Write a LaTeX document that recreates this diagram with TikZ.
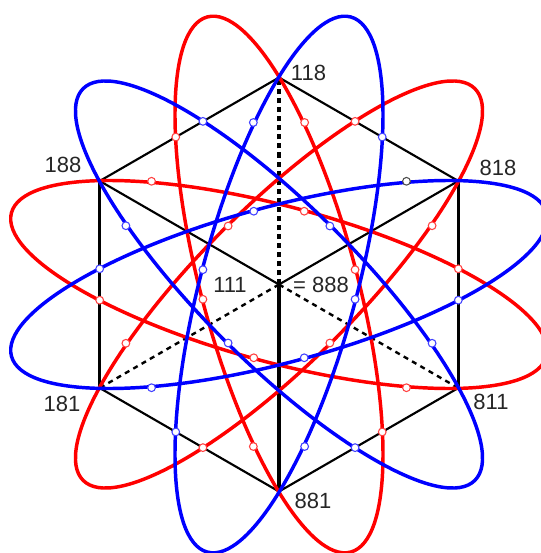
\documentclass[tikz,border=0pt]{standalone}
\usepackage{fontspec}
\setmainfont{Liberation Sans}
\tikzset{
  orbit/.style={line width=2.6pt,line join=round},
  edgethin/.style={black,line width=1.6pt},
  edgethick/.style={black,line width=2.3pt},
  spokethick/.style={black,line width=2.6pt,dash pattern=on 3.8pt off 3pt},
  spokethin/.style={black,line width=1.8pt,dash pattern=on 3.8pt off 3.4pt},
  dotmark/.style={circle,draw=#1,fill=white,line width=0.8pt,inner sep=0pt,minimum size=5.8pt},
  numlabel/.style={font=\fontsize{16.5pt}{18pt}\selectfont,inner sep=0pt,text=black!85},
}
\begin{document}
\begin{tikzpicture}[x=0.75pt,y=0.75pt]
\useasboundingbox (-279,-268.5) rectangle (262,284.5);
\clip (-279,-268.5) rectangle (262,284.5);
\coordinate (c) at (0,0);
\coordinate (v118) at (90:207);
\coordinate (v818) at (30:207);
\coordinate (v811) at (-30:207);
\coordinate (v881) at (-90:207);
\coordinate (v181) at (-150:207);
\coordinate (v188) at (150:207);
% hexagon and spokes
\draw[edgethin] (v118)--(v818);
\draw[edgethin] (v811)--(v881);
\draw[edgethin] (v881)--(v181);
\draw[edgethin] (v188)--(v118);
\draw[edgethick] (v818)--(v811);
\draw[edgethick] (v181)--(v188);
\draw[edgethin] (c)--(v188);
\draw[edgethin] (c)--(v818);
\draw[edgethick] (c)--(v881);
\draw[spokethick] (c)--(v118);
\draw[spokethin] (c)--(v181);
\draw[spokethin] (c)--(v811);
% ellipses
\foreach \ang in {45,105,165}
  \draw[orbit,red,rotate=\ang] (c) ellipse (277 and 78);
\foreach \ang in {15,75,135}
  \draw[orbit,blue,rotate=\ang] (c) ellipse (277 and 78);
% small circles
\foreach \k in {0,...,5} {
  \node[dotmark=red!75] (ra\k) at (60*\k+5:180) {};
  \node[dotmark=red!75] (rb\k) at (60*\k+21:164) {};
  \node[dotmark=red!75] (rc\k) at (60*\k+11:77.5) {};
  \node[dotmark=blue!75] (ba\k) at (60*\k+55:180) {};
  \node[dotmark=blue!75] (bc\k) at (60*\k+49:77.5) {};
}
\foreach \k in {1,...,5}
  \node[dotmark=blue!75] (bb\k) at (60*\k+39:164) {};
\node[dotmark=black!70] (bb0) at (39:164) {};
\node[numlabel] (l118) at (29.5,212) {118};
\node[numlabel] (l188) at (-216,119.5) {188};
\node[numlabel] (l818) at (219,116.5) {818};
\node[numlabel] (l181) at (-217,-119) {181};
\node[numlabel] (l811) at (212,-117.5) {811};
\node[numlabel] (l881) at (34,-216.5) {881};
\node[numlabel] (l111) at (-49,0) {111};
\node[numlabel] (l888) at (42,0) {= 888};
\end{tikzpicture}
\end{document}
